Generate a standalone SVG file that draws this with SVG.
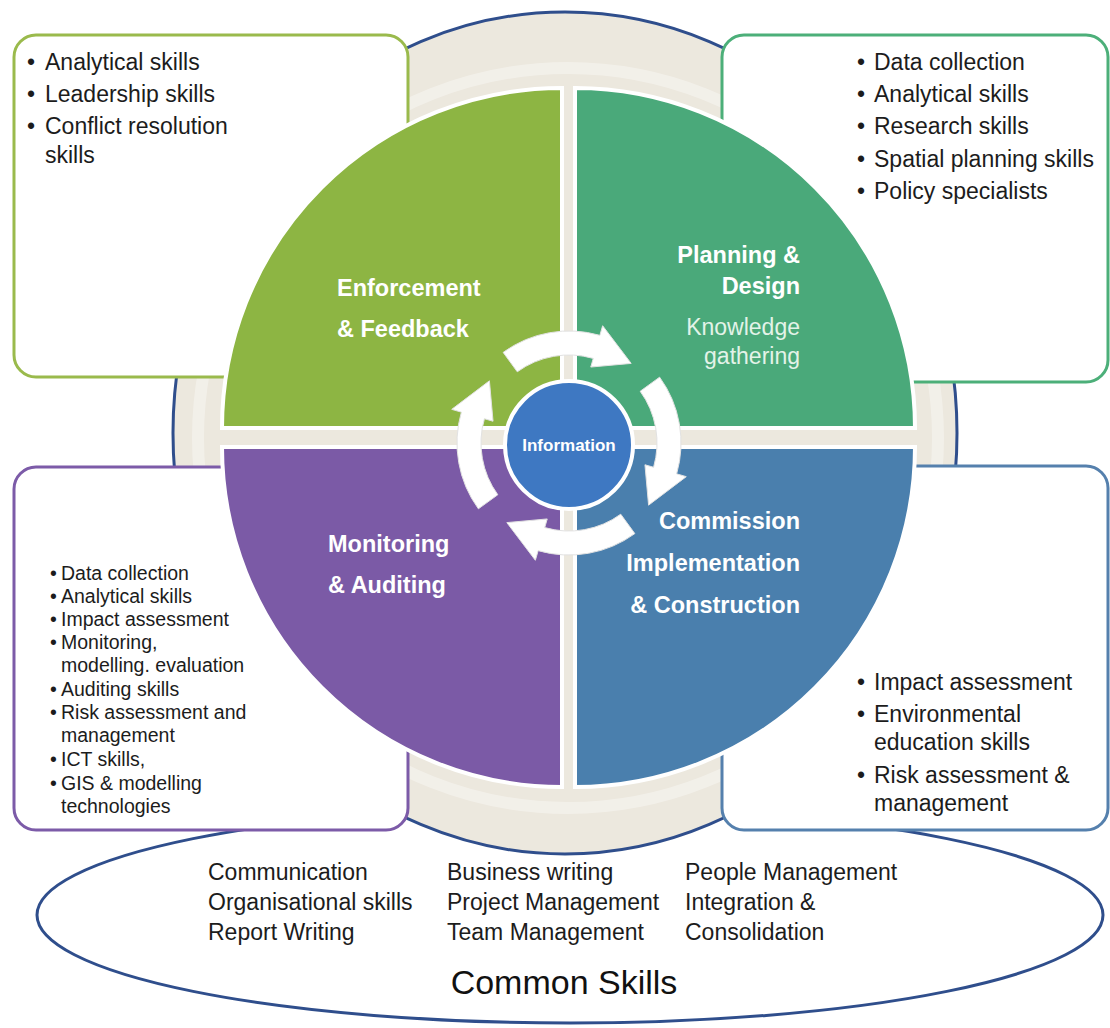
<svg xmlns="http://www.w3.org/2000/svg" xmlns:xlink="http://www.w3.org/1999/xlink" width="1110" height="1028" viewBox="0 0 1110 1028">
<style>
text{font-family:"Liberation Sans",Arial,sans-serif;}
.box{fill:#ffffff;stroke-width:3;}
.bt{font-size:23px;fill:#1c1c1c;}
.st{font-size:19.5px;fill:#1c1c1c;}
.ct{font-size:23px;fill:#1c1c1c;}
.ql{font-size:23.5px;font-weight:bold;fill:#ffffff;}
.qs{font-size:23px;fill:#e3f3e8;}
.quad{stroke:#ffffff;stroke-width:4;}
.arrow{fill:#ffffff;stroke:#e2e2e2;stroke-width:1;}
</style>
<defs>
<path id="cyc" d="M90.61,-65.83 A112,112 0 0 1 107.66,30.87 L117.27,33.63 L79.58,62.18 L75.94,21.77 L84.59,24.26 A88,88 0 0 0 71.19,-51.73 Z"/>
</defs>
<rect width="1110" height="1028" fill="#ffffff"/>
<g id="common-skills">
<ellipse cx="570" cy="915" rx="533" ry="108" fill="#ffffff" stroke="#2f4e8c" stroke-width="3"/>
<text class="ct" x="208" y="880">Communication</text>
<text class="ct" x="208" y="910">Organisational skills</text>
<text class="ct" x="208" y="940">Report Writing</text>
<text class="ct" x="447" y="880">Business writing</text>
<text class="ct" x="447" y="910">Project Management</text>
<text class="ct" x="447" y="940">Team Management</text>
<text class="ct" x="685" y="880">People Management</text>
<text class="ct" x="685" y="910">Integration &amp;</text>
<text class="ct" x="685" y="940">Consolidation</text>
<text x="564" y="994" text-anchor="middle" font-size="34" fill="#111111">Common Skills</text>
</g>
<g id="outer-ring">
<ellipse cx="565" cy="433" rx="392" ry="421" fill="#ece8de" stroke="#2f4e8c" stroke-width="3"/>
<circle cx="568" cy="438" r="370" fill="none" stroke="#ffffff" stroke-width="12" opacity="0.35"/>
</g>
<g id="box-enforcement">
<rect class="box" x="14" y="35" width="394" height="342" rx="22" stroke="#9aba4c"/>
<text class="bt" x="27" y="70">•</text><text class="bt" x="45" y="70">Analytical skills</text>
<text class="bt" x="27" y="102">•</text><text class="bt" x="45" y="102">Leadership skills</text>
<text class="bt" x="27" y="134">•</text><text class="bt" x="45" y="134">Conflict resolution</text>
<text class="bt" x="45" y="163">skills</text>
</g>
<g id="box-planning">
<rect class="box" x="722" y="35" width="386" height="347" rx="22" stroke="#4caf79"/>
<text class="bt" x="857" y="70">•</text><text class="bt" x="874" y="70">Data collection</text>
<text class="bt" x="857" y="102">•</text><text class="bt" x="874" y="102">Analytical skills</text>
<text class="bt" x="857" y="134">•</text><text class="bt" x="874" y="134">Research skills</text>
<text class="bt" x="857" y="167">•</text><text class="bt" x="874" y="167">Spatial planning skills</text>
<text class="bt" x="857" y="199">•</text><text class="bt" x="874" y="199">Policy specialists</text>
</g>
<g id="box-monitoring">
<rect class="box" x="14" y="467" width="394" height="363" rx="22" stroke="#7c5ba8"/>
<text class="st" x="50" y="580">•</text><text class="st" x="61" y="580">Data collection</text>
<text class="st" x="50" y="603">•</text><text class="st" x="61" y="603">Analytical skills</text>
<text class="st" x="50" y="626">•</text><text class="st" x="61" y="626">Impact assessment</text>
<text class="st" x="50" y="649">•</text><text class="st" x="61" y="649">Monitoring,</text>
<text class="st" x="61" y="672">modelling. evaluation</text>
<text class="st" x="50" y="696">•</text><text class="st" x="61" y="696">Auditing skills</text>
<text class="st" x="50" y="719">•</text><text class="st" x="61" y="719">Risk assessment and</text>
<text class="st" x="61" y="742">management</text>
<text class="st" x="50" y="766">•</text><text class="st" x="61" y="766">ICT skills,</text>
<text class="st" x="50" y="790">•</text><text class="st" x="61" y="790">GIS &amp; modelling</text>
<text class="st" x="61" y="813">technologies</text>
</g>
<g id="box-commission">
<rect class="box" x="722" y="466" width="386" height="364" rx="22" stroke="#5580ad"/>
<text class="bt" x="857" y="690">•</text><text class="bt" x="874" y="690">Impact assessment</text>
<text class="bt" x="857" y="722">•</text><text class="bt" x="874" y="722">Environmental</text>
<text class="bt" x="874" y="750">education skills</text>
<text class="bt" x="857" y="783">•</text><text class="bt" x="874" y="783">Risk assessment &amp;</text>
<text class="bt" x="874" y="811">management</text>
</g>
<g id="quad-enforcement">
<path class="quad" d="M562,428 L222,428 A340,340 0 0 1 562,88 Z" fill="#8db543"/>
<text class="ql" x="337" y="296">Enforcement</text>
<text class="ql" x="337" y="337">&amp; Feedback</text>
</g>
<g id="quad-planning">
<path class="quad" d="M575,428 L575,88 A340,340 0 0 1 915,428 Z" fill="#4aa97a"/>
<text class="ql" x="800" y="263" text-anchor="end">Planning  &amp;</text>
<text class="ql" x="800" y="294" text-anchor="end">Design</text>
<text class="qs" x="800" y="335" text-anchor="end">Knowledge</text>
<text class="qs" x="800" y="364" text-anchor="end">gathering</text>
</g>
<g id="quad-commission">
<path class="quad" d="M575,447 L915,447 A340,340 0 0 1 575,787 Z" fill="#4a7fad"/>
<text class="ql" x="800" y="529" text-anchor="end">Commission</text>
<text class="ql" x="800" y="571" text-anchor="end">Implementation</text>
<text class="ql" x="800" y="613" text-anchor="end">&amp; Construction</text>
</g>
<g id="quad-monitoring">
<path class="quad" d="M562,447 L562,787 A340,340 0 0 1 222,447 Z" fill="#7b5aa6"/>
<text class="ql" x="328" y="552">Monitoring</text>
<text class="ql" x="328" y="593">&amp; Auditing</text>
</g>
<g id="connectors">
<use xlink:href="#cyc" class="arrow" transform="translate(569,443) rotate(-90)"/>
<use xlink:href="#cyc" class="arrow" transform="translate(569,443)"/>
<use xlink:href="#cyc" class="arrow" transform="translate(569,443) rotate(90)"/>
<use xlink:href="#cyc" class="arrow" transform="translate(569,443) rotate(180)"/>
</g>
<g id="information">
<circle cx="569" cy="445" r="64" fill="#3e78c2" stroke="#ffffff" stroke-width="4"/>
<text x="569" y="451" text-anchor="middle" font-size="17" font-weight="bold" fill="#ffffff">Information</text>
</g>
</svg>
